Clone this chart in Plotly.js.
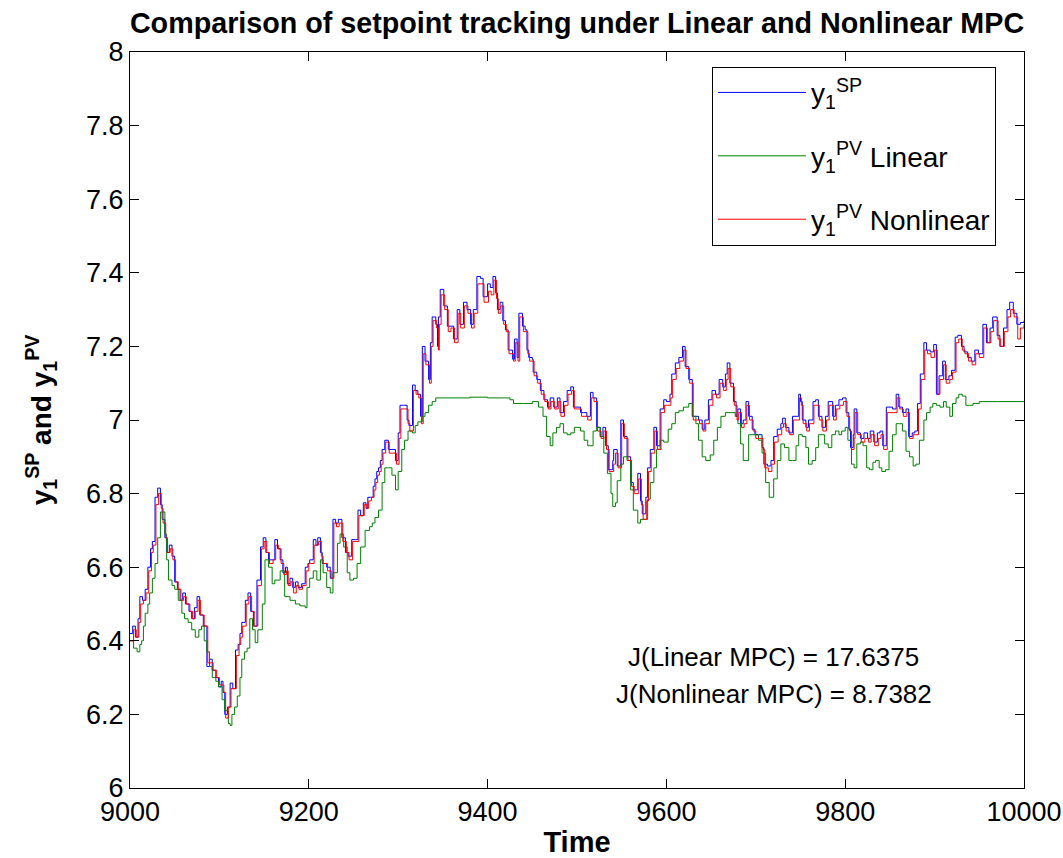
<!DOCTYPE html>
<html>
<head>
<meta charset="utf-8">
<script src="https://cdn.plot.ly/plotly-3.0.1.min.js"></script>
<style>html,body{margin:0;padding:0;background:#fff;}#chart{width:1063px;height:858px;}</style>
</head>
<body>
<div id="chart"></div>
<script>
// Setpoint y1^SP
const tSP = [9000,9003,9006,9009,9011,9014,9017,9020,9023,9025,9028,9031,9034,9036,9039,9041,9044,9047,9050,9053,9056,9059,9062,9066,9069,9072,9075,9078,9082,9086,9089,9092,9096,9099,9102,9104,9106,9109,9112,9115,9118,9121,9123,9125,9129,9132,9135,9138,9142,9146,9149,9152,9155,9159,9162,9165,9168,9171,9174,9176,9179,9182,9185,9188,9192,9196,9199,9201,9205,9208,9210,9213,9215,9220,9224,9227,9230,9233,9237,9241,9244,9248,9252,9255,9258,9261,9264,9266,9269,9272,9274,9276,9278,9280,9282,9285,9289,9293,9297,9300,9302,9306,9310,9312,9316,9319,9322,9325,9327,9330,9334,9336,9338,9342,9344,9345,9347,9351,9355,9358,9362,9366,9369,9373,9377,9381,9384,9388,9392,9395,9400,9403,9406,9409,9411,9414,9417,9420,9423,9428,9430,9433,9435,9439,9442,9444,9446,9450,9451,9455,9459,9463,9467,9470,9474,9478,9481,9485,9489,9493,9496,9500,9504,9507,9511,9515,9518,9522,9526,9529,9532,9535,9537,9540,9541,9545,9549,9552,9556,9560,9563,9568,9571,9573,9577,9579,9582,9586,9589,9593,9597,9600,9604,9606,9610,9614,9618,9621,9625,9629,9633,9636,9640,9643,9647,9651,9655,9659,9663,9666,9668,9671,9675,9678,9680,9683,9686,9689,9692,9696,9699,9703,9707,9709,9713,9717,9720,9724,9728,9730,9733,9737,9741,9745,9748,9750,9752,9756,9759,9764,9767,9770,9774,9778,9781,9786,9789,9793,9797,9801,9804,9806,9809,9810,9813,9817,9821,9825,9828,9832,9836,9839,9842,9846,9849,9853,9857,9860,9864,9868,9871,9875,9878,9881,9884,9888,9891,9895,9899,9902,9905,9909,9912,9916,9919,9923,9926,9930,9933,9937,9941,9945,9949,9954,9958,9962,9965,9970,9973,9977,9981,9984,9988,9992,9996,10000];
const ySP = [6.42,6.44,6.41,6.46,6.52,6.51,6.54,6.60,6.65,6.67,6.79,6.815,6.77,6.73,6.68,6.64,6.66,6.63,6.56,6.54,6.51,6.53,6.50,6.48,6.46,6.49,6.52,6.47,6.44,6.33,6.35,6.32,6.30,6.275,6.29,6.26,6.20,6.22,6.285,6.27,6.375,6.39,6.42,6.45,6.51,6.53,6.48,6.44,6.565,6.655,6.68,6.64,6.62,6.62,6.675,6.65,6.62,6.585,6.60,6.555,6.57,6.545,6.56,6.545,6.555,6.60,6.61,6.62,6.675,6.66,6.68,6.64,6.61,6.60,6.57,6.73,6.72,6.73,6.68,6.64,6.63,6.675,6.675,6.755,6.74,6.775,6.76,6.79,6.79,6.82,6.84,6.86,6.87,6.89,6.92,6.945,6.92,6.92,6.89,6.965,7.04,7.04,7.00,6.985,7.095,7.08,7.07,7.01,7.20,7.16,7.11,7.21,7.28,7.26,7.20,7.28,7.355,7.31,7.255,7.255,7.22,7.30,7.26,7.32,7.30,7.26,7.30,7.39,7.385,7.335,7.37,7.36,7.39,7.345,7.30,7.32,7.27,7.245,7.19,7.165,7.22,7.17,7.29,7.255,7.245,7.19,7.17,7.165,7.13,7.11,7.08,7.055,7.035,7.06,7.035,7.06,7.02,7.05,7.08,7.09,7.035,7.035,7.02,7.02,7.01,7.075,7.06,6.98,6.955,6.98,6.93,6.865,6.865,6.89,6.92,6.875,7.00,6.955,6.90,6.83,6.81,6.855,6.78,6.745,6.79,6.87,6.92,6.98,6.93,7.03,7.055,7.05,7.07,7.125,7.155,7.17,7.20,7.145,7.11,7.01,7.01,7.00,6.975,7.00,7.055,7.08,7.07,7.11,7.09,7.125,7.155,7.10,7.05,7.01,7.03,6.99,7.00,7.05,7.01,6.975,6.96,6.96,6.925,6.88,6.875,6.89,6.955,6.975,6.99,7.005,6.98,6.965,7.01,7.01,7.07,7.05,7.00,6.98,7.00,7.05,7.055,7.01,6.98,7.01,7.05,7.01,7.04,7.055,7.06,7.02,6.975,6.925,6.96,7.03,6.965,6.95,6.965,6.95,6.97,6.94,6.965,6.97,6.93,7.035,7.035,7.03,7.07,7.035,7.02,7.03,6.955,6.965,6.97,7.045,7.125,7.21,7.19,7.185,7.205,7.07,7.12,7.16,7.11,7.12,7.135,7.225,7.23,7.20,7.185,7.17,7.16,7.19,7.18,7.26,7.21,7.25,7.28,7.23,7.20,7.25,7.30,7.32,7.29,7.26,7.265,7.27];

// Process variable, Linear MPC
const tLin = [9000,9004,9008,9011,9013,9015,9017,9020,9022,9025,9028,9031,9034,9037,9039,9041,9043,9047,9050,9054,9058,9061,9065,9069,9073,9077,9080,9083,9086,9089,9092,9096,9099,9103,9106,9110,9112,9114,9117,9120,9123,9125,9128,9131,9134,9137,9140,9143,9148,9151,9155,9159,9162,9168,9173,9179,9185,9190,9196,9198,9201,9205,9209,9213,9216,9220,9224,9227,9232,9235,9239,9243,9246,9250,9254,9258,9263,9268,9271,9274,9278,9282,9285,9289,9293,9297,9300,9304,9307,9311,9316,9319,9322,9327,9330,9334,9338,9342,9360,9380,9400,9415,9425,9429,9440,9450,9457,9462,9466,9470,9473,9477,9481,9485,9489,9493,9497,9500,9504,9508,9512,9515,9518,9522,9526,9530,9534,9538,9540,9543,9545,9549,9552,9556,9560,9563,9568,9571,9575,9579,9582,9586,9589,9593,9597,9602,9606,9610,9614,9619,9625,9629,9633,9636,9640,9644,9649,9653,9657,9661,9666,9672,9677,9680,9683,9686,9689,9692,9698,9703,9707,9711,9715,9718,9720,9724,9728,9732,9737,9741,9745,9748,9752,9756,9759,9763,9767,9770,9774,9777,9781,9785,9789,9793,9796,9800,9803,9807,9810,9813,9817,9820,9824,9827,9831,9834,9838,9841,9845,9849,9853,9857,9861,9864,9868,9872,9876,9879,9883,9888,9891,9895,9898,9902,9906,9910,9913,9917,9920,9924,9927,9931,9935,9939,9943,9950,9970,10000];
const yLin = [6.40,6.38,6.37,6.39,6.40,6.44,6.475,6.50,6.53,6.57,6.61,6.68,6.75,6.75,6.69,6.62,6.565,6.55,6.54,6.51,6.475,6.46,6.45,6.43,6.41,6.43,6.44,6.40,6.37,6.33,6.30,6.29,6.275,6.24,6.21,6.175,6.17,6.20,6.22,6.25,6.30,6.35,6.37,6.38,6.46,6.43,6.395,6.43,6.50,6.62,6.60,6.555,6.565,6.59,6.52,6.51,6.50,6.495,6.49,6.545,6.57,6.59,6.565,6.62,6.585,6.545,6.53,6.585,6.665,6.69,6.655,6.585,6.565,6.57,6.61,6.655,6.70,6.71,6.72,6.735,6.755,6.83,6.87,6.87,6.85,6.81,6.86,6.92,6.945,6.97,6.965,6.985,6.995,7.01,7.02,7.04,7.05,7.06,7.06,7.062,7.06,7.06,7.055,7.045,7.045,7.05,7.035,7.01,6.955,6.93,6.965,6.98,6.99,6.965,6.96,6.965,6.98,6.98,6.97,6.945,6.93,6.93,6.97,6.98,6.955,6.91,6.855,6.80,6.765,6.775,6.835,6.88,6.90,6.89,6.81,6.755,6.72,6.73,6.73,6.785,6.83,6.87,6.92,6.945,6.94,6.975,6.99,7.02,7.025,7.035,7.045,7.01,6.99,6.945,6.90,6.89,6.905,6.945,6.98,7.01,7.02,7.02,7.01,6.99,6.935,6.89,6.89,6.96,6.96,6.945,6.91,6.83,6.79,6.79,6.84,6.89,6.935,6.925,6.89,6.89,6.93,6.96,6.955,6.925,6.88,6.89,6.925,6.96,6.96,6.935,6.925,6.96,6.97,6.96,6.97,6.98,6.945,6.88,6.87,6.935,6.94,6.93,6.87,6.865,6.885,6.89,6.87,6.86,6.865,6.915,6.96,6.99,6.99,6.97,6.915,6.90,6.875,6.88,6.945,7.00,7.02,7.035,7.045,7.04,7.035,7.05,7.035,7.01,7.045,7.06,7.07,7.065,7.04,7.04,7.045,7.05,7.05,7.05];

// Process variable, Nonlinear MPC
const tNL = [9000,9004,9007,9010,9012,9015,9018,9021,9024,9026,9029,9032,9035,9037,9040,9042,9045,9048,9051,9054,9057,9060,9063,9067,9070,9073,9076,9079,9083,9087,9090,9093,9097,9100,9103,9105,9107,9110,9113,9116,9119,9122,9124,9126,9130,9133,9136,9139,9143,9147,9150,9153,9156,9160,9163,9166,9169,9172,9175,9177,9180,9183,9186,9189,9193,9197,9200,9202,9206,9209,9211,9214,9216,9221,9225,9228,9231,9234,9238,9242,9245,9249,9253,9256,9259,9262,9265,9267,9270,9273,9275,9277,9279,9281,9283,9286,9290,9294,9298,9301,9303,9307,9311,9313,9317,9320,9323,9326,9328,9331,9335,9337,9339,9343,9345,9346,9348,9352,9356,9359,9363,9367,9370,9374,9378,9382,9385,9389,9393,9396,9401,9404,9407,9410,9412,9415,9418,9421,9424,9429,9431,9434,9436,9440,9443,9445,9447,9451,9452,9456,9460,9464,9468,9471,9475,9479,9482,9486,9490,9494,9497,9501,9505,9508,9512,9516,9519,9523,9527,9530,9533,9536,9538,9541,9543,9546,9550,9553,9557,9561,9564,9569,9572,9574,9578,9580,9583,9587,9590,9594,9598,9601,9605,9607,9611,9615,9619,9622,9626,9630,9634,9637,9641,9644,9648,9652,9656,9660,9664,9667,9669,9672,9676,9679,9681,9684,9687,9690,9693,9697,9700,9704,9708,9710,9714,9718,9721,9725,9729,9731,9734,9738,9742,9746,9749,9751,9753,9757,9760,9765,9768,9771,9775,9779,9782,9787,9790,9794,9798,9802,9805,9807,9810,9811,9814,9818,9822,9826,9829,9833,9837,9840,9843,9847,9850,9854,9858,9861,9865,9869,9872,9876,9879,9882,9885,9889,9892,9896,9900,9903,9906,9910,9913,9917,9920,9924,9927,9931,9934,9938,9942,9946,9950,9955,9959,9963,9966,9971,9974,9978,9982,9985,9989,9993,9996,10000];
const yNL = [6.40,6.43,6.41,6.45,6.50,6.51,6.53,6.59,6.64,6.66,6.77,6.80,6.76,6.72,6.68,6.64,6.65,6.62,6.56,6.54,6.51,6.52,6.50,6.48,6.46,6.48,6.51,6.47,6.44,6.34,6.34,6.32,6.30,6.28,6.28,6.26,6.19,6.22,6.27,6.27,6.36,6.39,6.41,6.44,6.50,6.52,6.48,6.44,6.55,6.65,6.67,6.64,6.61,6.62,6.66,6.65,6.61,6.58,6.59,6.55,6.56,6.53,6.55,6.54,6.55,6.59,6.61,6.61,6.66,6.66,6.67,6.63,6.61,6.59,6.57,6.72,6.71,6.72,6.67,6.64,6.62,6.67,6.67,6.74,6.74,6.77,6.76,6.78,6.79,6.81,6.83,6.85,6.86,6.88,6.91,6.94,6.91,6.91,6.88,6.95,7.03,7.03,6.99,6.97,7.08,7.07,7.06,6.99,7.18,7.15,7.10,7.20,7.27,7.25,7.19,7.26,7.34,7.30,7.24,7.25,7.21,7.29,7.25,7.31,7.29,7.25,7.29,7.37,7.37,7.32,7.35,7.34,7.38,7.33,7.29,7.31,7.26,7.24,7.18,7.16,7.21,7.16,7.28,7.24,7.24,7.18,7.16,7.16,7.12,7.10,7.07,7.05,7.03,7.05,7.03,7.05,7.01,7.04,7.07,7.08,7.03,7.03,7.01,7.01,7.00,7.06,7.05,6.97,6.95,6.97,6.92,6.86,6.86,6.88,6.91,6.87,6.99,6.95,6.89,6.82,6.80,6.84,6.77,6.73,6.78,6.86,6.91,6.97,6.92,7.02,7.04,7.04,7.06,7.11,7.14,7.16,7.19,7.14,7.10,7.00,7.00,6.99,6.97,6.99,7.04,7.07,7.06,7.10,7.08,7.11,7.14,7.09,7.04,7.00,7.02,6.98,6.99,7.04,7.00,6.97,6.95,6.95,6.92,6.87,6.86,6.88,6.94,6.96,6.98,6.99,6.97,6.96,7.00,7.00,7.06,7.04,6.99,6.97,6.99,7.04,7.04,7.00,6.97,7.00,7.04,7.00,7.03,7.04,7.05,7.01,6.97,6.92,6.95,7.02,6.96,6.94,6.95,6.94,6.96,6.93,6.95,6.96,6.92,7.02,7.02,7.02,7.06,7.03,7.01,7.02,6.95,6.96,6.96,7.03,7.11,7.19,7.18,7.17,7.19,7.07,7.11,7.15,7.10,7.11,7.13,7.21,7.22,7.19,7.18,7.16,7.15,7.18,7.17,7.25,7.21,7.24,7.27,7.22,7.20,7.24,7.28,7.30,7.28,7.22,7.25,7.26];

const xTicks = [9000, 9200, 9400, 9600, 9800, 10000];
const yTicks = [6, 6.2, 6.4, 6.6, 6.8, 7, 7.2, 7.4, 7.6, 7.8, 8];
const seriesNames = ['y<sub>1</sub><sup>SP</sup>', 'y<sub>1</sub><sup>PV</sup> Linear', 'y<sub>1</sub><sup>PV</sup> Nonlinear'];
const costLabels = ['J(Linear MPC) = 17.6375', 'J(Nonlinear MPC) = 8.7382'];

const FONT = 'Liberation Sans, Arial, Helvetica, sans-serif';
const FS = 27;

const traces = [
  {x: tSP, y: ySP, name: seriesNames[0], legendgroup: 'sp', mode: 'lines', line: {color: '#0000FF', width: 1, shape: 'hv'}},
  {x: tLin, y: yLin, name: seriesNames[1], legendgroup: 'lin', mode: 'lines', line: {color: '#008000', width: 1, shape: 'hv'}},
  {x: tNL, y: yNL, name: seriesNames[2], legendgroup: 'nl', mode: 'lines', line: {color: '#FF0000', width: 1, shape: 'hv'}}
];

const axisCommon = {
  showline: true, linecolor: '#000', linewidth: 1, mirror: 'ticks',
  ticks: 'inside', ticklen: 9, tickcolor: '#000', tickwidth: 1,
  showgrid: false, zeroline: false,
  tickfont: {family: FONT, size: FS, color: '#000'}
};

const layout = {
  width: 1063, height: 858,
  paper_bgcolor: '#fff', plot_bgcolor: '#fff',
  margin: {l: 130, r: 39, t: 52, b: 70},
  font: {family: FONT, color: '#000'},
  title: {
    text: '<b>Comparison of setpoint tracking under Linear and Nonlinear MPC</b>',
    font: {family: FONT, size: 28.7, color: '#000'},
    x: 0.5, xref: 'paper', xanchor: 'center', y: 1 - 23/858, yref: 'container', yanchor: 'middle'
  },
  xaxis: Object.assign({}, axisCommon, {
    range: [9000, 10000], tickvals: xTicks, ticktext: xTicks.map(String),
    title: {text: '<b>Time</b>', font: {family: FONT, size: 29, color: '#000'}, standoff: 12}
  }),
  yaxis: Object.assign({}, axisCommon, {
    range: [6, 8], tickvals: yTicks, ticktext: yTicks.map(String),
    title: {text: '<b>y<sub>1</sub><sup>SP</sup> and y<sub>1</sub><sup>PV</sup></b>', font: {family: FONT, size: 28, color: '#000'}, standoff: 26}
  }),
  showlegend: true,
  legend: {
    x: 0.651, y: 0.98, xanchor: 'left', yanchor: 'top',
    bgcolor: '#fff', bordercolor: '#000', borderwidth: 1,
    font: {family: FONT, size: 28, color: '#000'},
    itemwidth: 88, tracegroupgap: 24
  },
  annotations: [
    {x: 9720, y: 6.356, xref: 'x', yref: 'y', text: costLabels[0], showarrow: false, xanchor: 'center', yanchor: 'middle', font: {family: FONT, size: 26, color: '#000'}},
    {x: 9720, y: 6.256, xref: 'x', yref: 'y', text: costLabels[1], showarrow: false, xanchor: 'center', yanchor: 'middle', font: {family: FONT, size: 26, color: '#000'}}
  ]
};

Plotly.newPlot('chart', traces, layout, {displayModeBar: false, staticPlot: true});
</script>
</body>
</html>
